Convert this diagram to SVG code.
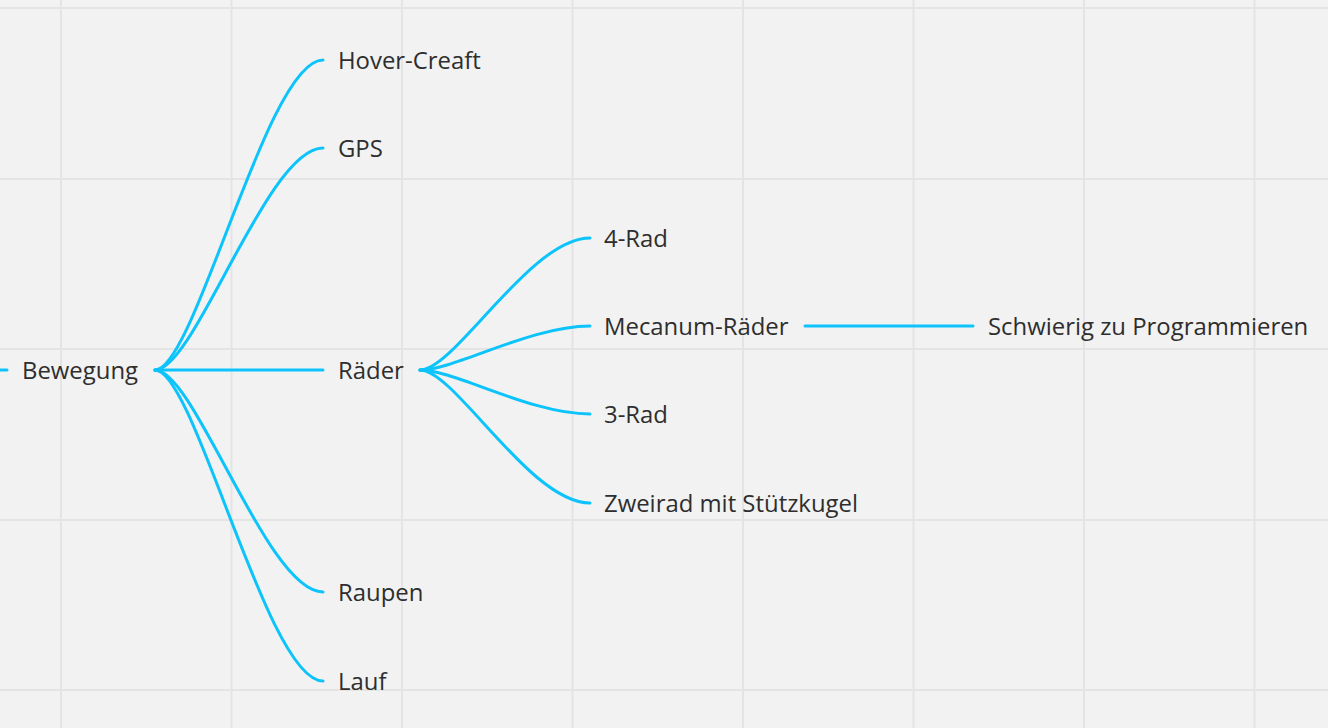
<svg xmlns="http://www.w3.org/2000/svg" width="1328" height="728" viewBox="0 0 1328 728">
<style>
.grid line{stroke:#e4e4e4;stroke-width:2}
.conn path{fill:none;stroke:#0cc4fb;stroke-width:3;stroke-linecap:round}
text{font-family:"Open Sans","Noto Sans",sans-serif;font-size:23.9px;fill:#2e2e2e}
</style>
<rect width="1328" height="728" fill="#f2f2f2"/>
<g class="grid">
<line x1="61" y1="0" x2="61" y2="728"/>
<line x1="231.5" y1="0" x2="231.5" y2="728"/>
<line x1="402" y1="0" x2="402" y2="728"/>
<line x1="572.5" y1="0" x2="572.5" y2="728"/>
<line x1="743" y1="0" x2="743" y2="728"/>
<line x1="913.5" y1="0" x2="913.5" y2="728"/>
<line x1="1084" y1="0" x2="1084" y2="728"/>
<line x1="1254.5" y1="0" x2="1254.5" y2="728"/>
<line x1="0" y1="8" x2="1328" y2="8"/>
<line x1="0" y1="179" x2="1328" y2="179"/>
<line x1="0" y1="349" x2="1328" y2="349"/>
<line x1="0" y1="520" x2="1328" y2="520"/>
<line x1="0" y1="690" x2="1328" y2="690"/>
</g>
<g class="conn" id="connectors">
<path d="M-2,370 H7"/>
<path d="M155,370 C195,370 267,60 323,60"/>
<path d="M155,370 C195,370 267,148 323,148"/>
<path d="M155,370 H323"/>
<path d="M155,370 C195,370 267,592 323,592"/>
<path d="M155,370 C195,370 267,681 323,681"/>
<path d="M420,370 C455,370 530,238 590,238"/>
<path d="M420,370 C455,370 530,326 590,326"/>
<path d="M420,370 C455,370 530,414 590,414"/>
<path d="M420,370 C455,370 530,503 590,503"/>
<path d="M805,326 H973"/>
</g>
<g id="n-bewegung"><text x="22" y="379">Bewegung</text></g>
<g id="n-hover"><text x="338" y="69">Hover-Creaft</text></g>
<g id="n-gps"><text x="338" y="157">GPS</text></g>
<g id="n-raeder"><text x="338" y="379">Räder</text></g>
<g id="n-raupen"><text x="338" y="601">Raupen</text></g>
<g id="n-lauf"><text x="338" y="690">Lauf</text></g>
<g id="n-4rad"><text x="604" y="247">4-Rad</text></g>
<g id="n-mecanum"><text x="604" y="335">Mecanum-Räder</text></g>
<g id="n-3rad"><text x="604" y="423">3-Rad</text></g>
<g id="n-zweirad"><text x="604" y="512">Zweirad mit Stützkugel</text></g>
<g id="n-schwierig"><text x="988" y="335">Schwierig zu Programmieren</text></g>
</svg>
